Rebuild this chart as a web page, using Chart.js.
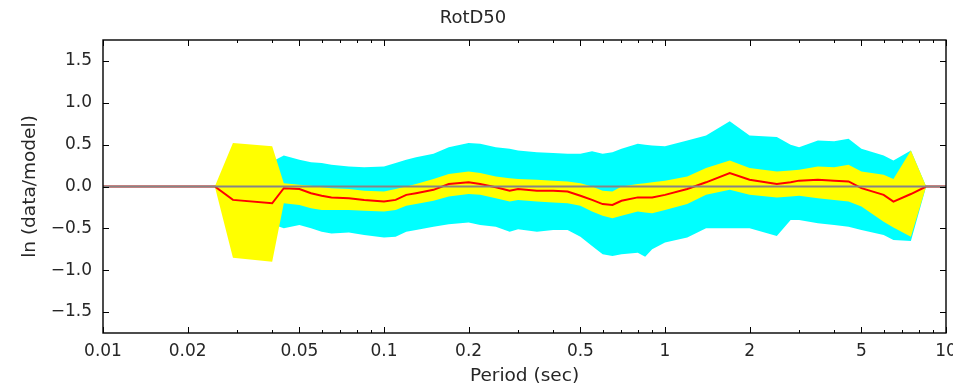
<!DOCTYPE html>
<html>
<head>
<meta charset="utf-8">
<script src="https://cdn.jsdelivr.net/npm/chart.js@4/dist/chart.umd.min.js"></script>
<style>
  body { margin: 0; background: #fff; }
  #wrap { width: 953px; height: 390px; }
</style>
</head>
<body>
<div id="wrap"><canvas id="Chart" width="953" height="390"></canvas></div>
<script>
// periods (sec)
var periods = [0.01, 0.025, 0.029, 0.04, 0.044, 0.05, 0.055, 0.06, 0.065, 0.075, 0.085, 0.1, 0.11, 0.12, 0.13, 0.15, 0.17, 0.2, 0.22, 0.25, 0.28, 0.3, 0.35, 0.4, 0.45, 0.5, 0.55, 0.6, 0.65, 0.7, 0.8, 0.85, 0.9, 1.0, 1.2, 1.4, 1.7, 2.0, 2.5, 2.8, 3.0, 3.5, 4.0, 4.5, 5.0, 6.0, 6.5, 7.5, 8.5, 10];

// mean residual (red)
var meanRes = [0, 0, -0.16, -0.20, -0.02, -0.03, -0.08, -0.11, -0.13, -0.14, -0.16, -0.18, -0.16, -0.10, -0.08, -0.04, 0.03, 0.05, 0.03, -0.01, -0.05, -0.03, -0.05, -0.05, -0.06, -0.11, -0.16, -0.21, -0.22, -0.17, -0.13, -0.13, -0.13, -0.10, -0.03, 0.05, 0.16, 0.08, 0.03, 0.05, 0.07, 0.08, 0.07, 0.06, -0.02, -0.10, -0.18, -0.09, 0, 0];

// inner band (yellow)
var yelHi = [0, 0, 0.52, 0.48, 0.04, 0.02, 0.01, -0.01, -0.02, -0.03, -0.05, -0.06, -0.03, 0.00, 0.03, 0.09, 0.15, 0.18, 0.16, 0.12, 0.10, 0.09, 0.08, 0.07, 0.06, 0.04, 0.00, -0.05, -0.06, 0.00, 0.03, 0.04, 0.05, 0.07, 0.12, 0.22, 0.31, 0.22, 0.18, 0.19, 0.20, 0.24, 0.23, 0.26, 0.18, 0.14, 0.09, 0.43, 0, 0];
var yelLo = [0, 0, -0.85, -0.90, -0.20, -0.22, -0.26, -0.28, -0.28, -0.28, -0.29, -0.30, -0.28, -0.23, -0.21, -0.17, -0.12, -0.09, -0.10, -0.14, -0.18, -0.16, -0.18, -0.19, -0.20, -0.23, -0.30, -0.35, -0.38, -0.35, -0.30, -0.31, -0.32, -0.28, -0.21, -0.10, -0.04, -0.10, -0.13, -0.12, -0.11, -0.14, -0.16, -0.18, -0.24, -0.42, -0.49, -0.60, 0, 0];

// outer band (cyan)
var cyanHi = [0, 0, 0.30, 0.30, 0.37, 0.32, 0.29, 0.28, 0.26, 0.24, 0.23, 0.24, 0.28, 0.32, 0.35, 0.39, 0.47, 0.52, 0.51, 0.47, 0.45, 0.43, 0.41, 0.40, 0.39, 0.39, 0.42, 0.39, 0.41, 0.45, 0.51, 0.50, 0.49, 0.48, 0.55, 0.61, 0.78, 0.61, 0.59, 0.50, 0.47, 0.55, 0.54, 0.57, 0.45, 0.37, 0.31, 0.43, 0, 0];
var cyanLo = [0, 0, -0.45, -0.45, -0.50, -0.46, -0.50, -0.54, -0.56, -0.55, -0.58, -0.61, -0.60, -0.54, -0.52, -0.48, -0.45, -0.43, -0.46, -0.48, -0.54, -0.51, -0.54, -0.52, -0.52, -0.60, -0.71, -0.81, -0.83, -0.81, -0.79, -0.84, -0.75, -0.67, -0.61, -0.50, -0.50, -0.50, -0.59, -0.40, -0.40, -0.44, -0.46, -0.48, -0.52, -0.58, -0.64, -0.65, 0, 0];

// zero reference line
var zeroX = [0.01, 10];
var zeroY = [0, 0];

// axis ticks
var xMajor = [0.01, 0.02, 0.05, 0.1, 0.2, 0.5, 1, 2, 5, 10];
var xMinor = [0.03, 0.04, 0.06, 0.07, 0.08, 0.09, 0.3, 0.4, 0.6, 0.7, 0.8, 0.9, 3, 4, 6, 7, 8, 9];
var yMajor = [-1.5, -1.0, -0.5, 0.0, 0.5, 1.0, 1.5];

function pts(xs, ys) {
    return xs.map(function (x, i) { return { x: x, y: ys[i] }; });
}

// inward ticks + frame, matplotlib-ish
var frameTicks = {
    id: 'frameTicks',
    afterDraw: function (chart) {
        var ctx = chart.ctx, a = chart.chartArea;
        var xs = chart.scales.x, ys = chart.scales.y;
        ctx.save();
        ctx.strokeStyle = '#000';
        ctx.lineWidth = 1;
        function tick(x1, y1, x2, y2) {
            ctx.beginPath(); ctx.moveTo(x1, y1); ctx.lineTo(x2, y2); ctx.stroke();
        }
        xMajor.forEach(function (v) {
            var px = Math.round(xs.getPixelForValue(v)) + 0.5;
            tick(px, a.bottom, px, a.bottom - 6);
            tick(px, a.top, px, a.top + 6);
        });
        xMinor.forEach(function (v) {
            var px = Math.round(xs.getPixelForValue(v)) + 0.5;
            tick(px, a.bottom, px, a.bottom - 3);
            tick(px, a.top, px, a.top + 3);
        });
        yMajor.forEach(function (v) {
            var py = Math.round(ys.getPixelForValue(v)) + 0.5;
            tick(a.left, py, a.left + 6, py);
            tick(a.right, py, a.right - 6, py);
        });
        ctx.lineWidth = 1.4;
        ctx.strokeRect(a.left, a.top, a.right - a.left, a.bottom - a.top);
        ctx.restore();
    }
};

var ctx = document.getElementById("Chart").getContext("2d");
var lineChart = new Chart(ctx, {
    type: 'line',
    data: {
        datasets: [{
            label: 'zero',
            data: pts(zeroX, zeroY),
            borderColor: '#858585',
            borderWidth: 2,
            pointRadius: 0,
            fill: false
        }, {
            label: 'mean',
            data: pts(periods, meanRes),
            borderColor: '#ff0000',
            borderWidth: 2,
            pointRadius: 0,
            fill: false
        }, {
            label: 'yelHi',
            data: pts(periods, yelHi),
            borderWidth: 0,
            borderColor: 'rgba(0,0,0,0)',
            backgroundColor: '#ffff00',
            pointRadius: 0,
            fill: '+1'
        }, {
            label: 'yelLo',
            data: pts(periods, yelLo),
            borderWidth: 0,
            borderColor: 'rgba(0,0,0,0)',
            pointRadius: 0,
            fill: false
        }, {
            label: 'cyanHi',
            data: pts(periods, cyanHi),
            borderWidth: 0,
            borderColor: 'rgba(0,0,0,0)',
            backgroundColor: '#00ffff',
            pointRadius: 0,
            fill: '+1'
        }, {
            label: 'cyanLo',
            data: pts(periods, cyanLo),
            borderWidth: 0,
            borderColor: 'rgba(0,0,0,0)',
            pointRadius: 0,
            fill: false
        }]
    },
    options: {
        responsive: false,
        animation: false,
        devicePixelRatio: 1,
        layout: { padding: { left: 0, right: 7, top: 0, bottom: 0 } },
        plugins: {
            legend: { display: false },
            tooltip: { enabled: false },
            title: {
                display: true,
                text: 'RotD50',
                color: '#262626',
                font: { family: 'DejaVu Sans', size: 18, weight: 'normal' },
                padding: { top: 8, bottom: 10.4 }
            }
        },
        scales: {
            x: {
                type: 'logarithmic',
                min: 0.01,
                max: 10,
                grid: { display: false, drawTicks: false },
                border: { display: false },
                afterBuildTicks: function (s) {
                    s.ticks = xMajor.map(function (v) { return { value: v }; });
                },
                afterFit: function (s) {
                    s.height = 57;
                    s.paddingLeft = 0;
                    s.paddingRight = 0;
                },
                ticks: {
                    autoSkip: false,
                    maxRotation: 0,
                    padding: 8,
                    color: '#262626',
                    font: { family: 'DejaVu Sans', size: 17 },
                    callback: function (v) { return String(v); }
                },
                title: {
                    display: true,
                    text: 'Period (sec)',
                    color: '#262626',
                    font: { family: 'DejaVu Sans', size: 18.5 },
                    padding: { top: 0, bottom: 3 }
                }
            },
            y: {
                min: -1.75,
                max: 1.75,
                grid: { display: false, drawTicks: false },
                border: { display: false },
                afterBuildTicks: function (s) {
                    s.ticks = yMajor.map(function (v) { return { value: v }; });
                },
                afterFit: function (s) {
                    s.width = 103;
                },
                ticks: {
                    padding: 11,
                    color: '#262626',
                    font: { family: 'DejaVu Sans', size: 17 },
                    callback: function (v) {
                        return v < 0 ? '\u2212' + Math.abs(v).toFixed(1) : v.toFixed(1);
                    }
                },
                title: {
                    display: true,
                    text: 'ln (data/model)',
                    color: '#262626',
                    font: { family: 'DejaVu Sans', size: 18.5 },
                    padding: { top: 19, bottom: 0 }
                }
            }
        }
    },
    plugins: [frameTicks]
});
</script>
</body>
</html>
